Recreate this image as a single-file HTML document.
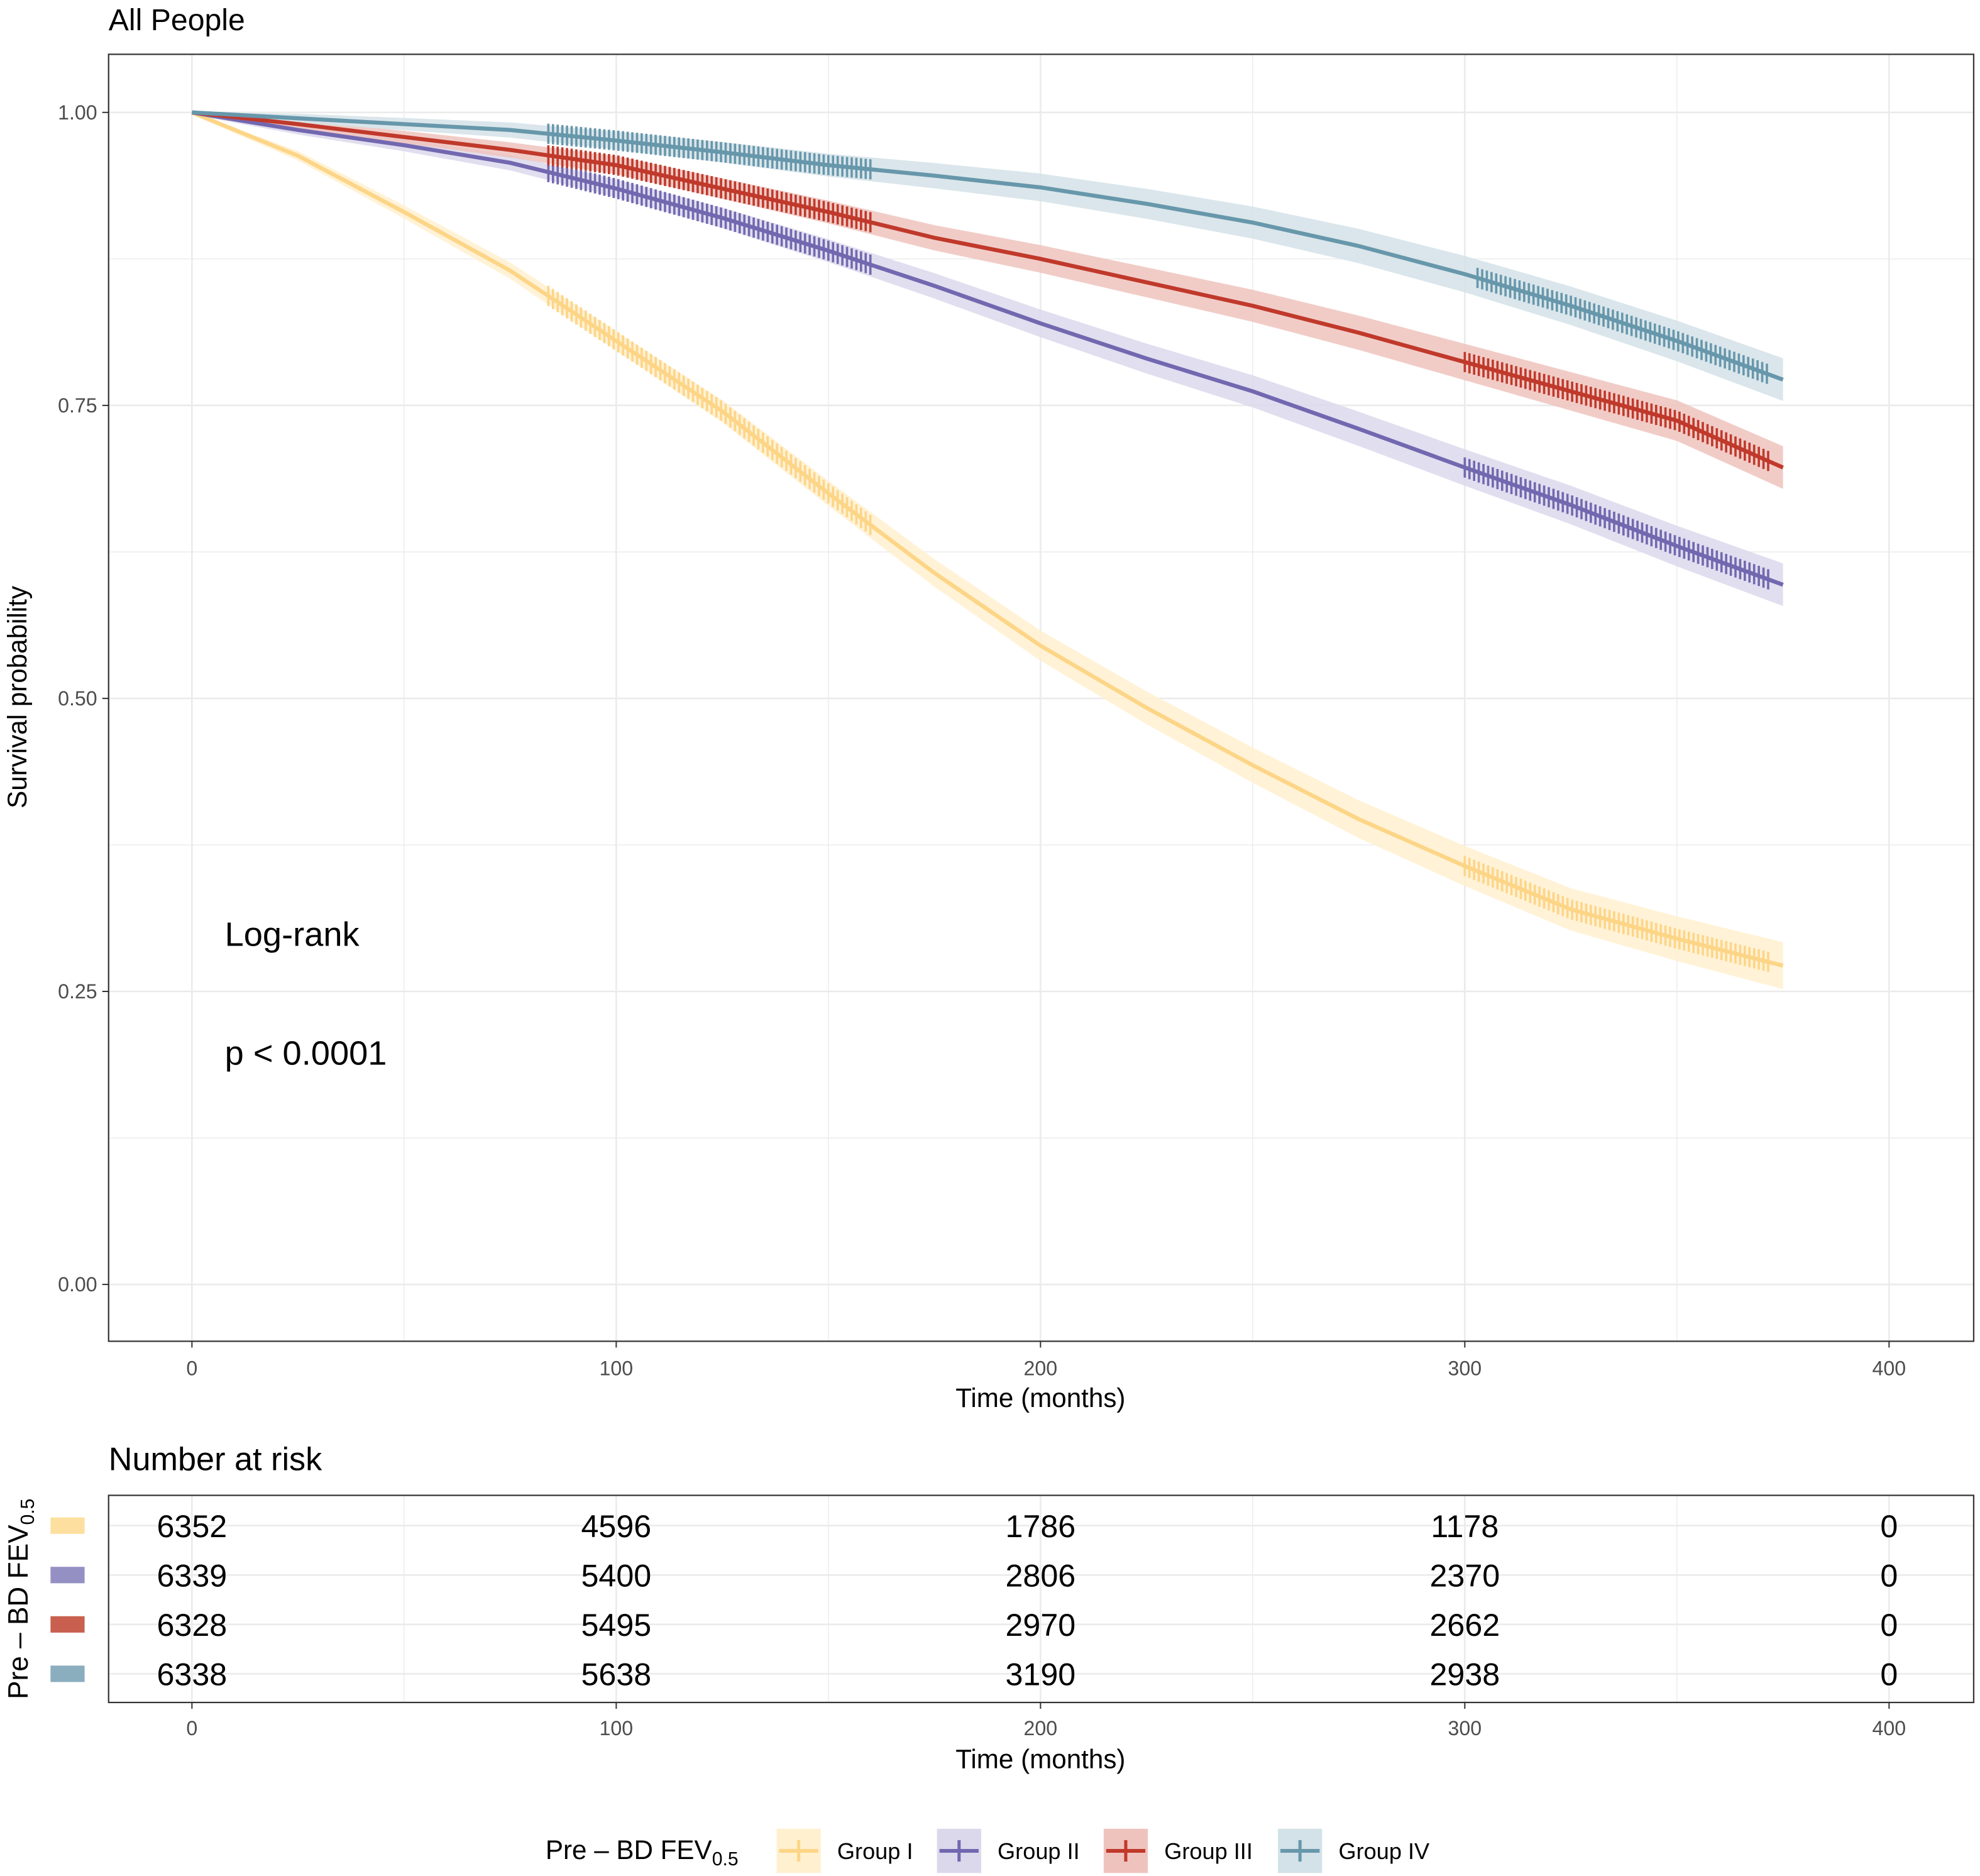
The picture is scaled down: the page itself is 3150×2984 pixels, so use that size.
<!DOCTYPE html>
<html><head><meta charset="utf-8"><style>html,body{margin:0;padding:0;background:#fff}svg{display:block}text{font-family:"Liberation Sans",Arial,sans-serif}</style></head>
<body>
<svg id="chart" width="3150" height="2984" viewBox="0 0 1568 1485.4" preserveAspectRatio="none" xmlns="http://www.w3.org/2000/svg">
<rect width="1568" height="1485.4" fill="#fff"/>
<g id="grid"></g>
<g id="bands"></g>
<g id="lines"></g>
<g id="censors"></g>
<rect x="86" y="43" width="1477" height="1019" fill="none" stroke="#333" stroke-width="1.1"/>
<text x="86" y="24" font-size="24">All People</text>
<text transform="translate(21,552) rotate(-90)" text-anchor="middle" font-size="21">Survival probability</text>
<text x="824" y="1114" text-anchor="middle" font-size="21">Time (months)</text>
<text x="178" y="749" font-size="27">Log-rank</text>
<text x="178" y="843" font-size="27">p &lt; 0.0001</text>
<g id="ticks"></g>
<text x="86" y="1164" font-size="26">Number at risk</text>
<g id="riskgrid"></g>
<rect x="86" y="1184" width="1477" height="164" fill="none" stroke="#333" stroke-width="1.1"/>
<g id="risk"></g>
<text x="824" y="1400" text-anchor="middle" font-size="21">Time (months)</text>
<text transform="translate(22,1266) rotate(-90)" text-anchor="middle" font-size="22">Pre – BD FEV<tspan font-size="15" dy="5">0.5</tspan></text>
<text x="432" y="1472" font-size="21">Pre – BD FEV<tspan font-size="15" dy="5">0.5</tspan></text>
<g id="legend"></g>
</svg>
<script>
const times=[0,25,50,75,100,125,150,175,200,225,250,275,300,325,350,375];
const groupNames=["Group I","Group II","Group III","Group IV"];
const survI  =[1,0.963,0.915,0.865,0.805,0.745,0.675,0.607,0.545,0.492,0.443,0.397,0.357,0.32,0.295,0.272];
const survII =[1,0.985,0.972,0.957,0.935,0.91,0.882,0.852,0.82,0.79,0.762,0.73,0.697,0.665,0.63,0.597];
const survIII=[1,0.99,0.979,0.968,0.955,0.935,0.915,0.893,0.875,0.855,0.835,0.812,0.787,0.762,0.737,0.697];
const survIV =[1,0.995,0.99,0.985,0.976,0.966,0.955,0.946,0.936,0.922,0.906,0.886,0.862,0.835,0.805,0.772];
const series=[survI,survII,survIII,survIV];
const censorStart=[84,84,84,84];
const censorEnd=[160,160,160,160];
const censorLateStart=[300,300,300,303];
const censorLateEnd=[372,372,372,372];
const riskTimes=[0,100,200,300,400];
const riskI=[6352,4596,1786,1178,0];
const riskII=[6339,5400,2806,2370,0];
const riskIII=[6328,5495,2970,2662,0];
const riskIV=[6338,5638,3190,2938,0];
const riskRows=[riskI,riskII,riskIII,riskIV];
const xTicks=[0,100,200,300,400];
const yTicks=[0,0.25,0.5,0.75,1];
const lineCols=["#fdd587","#7268b0","#c0392b","#6797ab"];
const bandCols=["#fff0cf","#dcd8ec","#efc3bd","#d3e2e8"];
const keyCols=["#fde09f","#9590c4","#c9604f","#8aaebd"];
const NS="http://www.w3.org/2000/svg";
const X=t=>152+t*3.36, Y=s=>1017-s*928;
function mk(tag,attrs,parent){const e=document.createElementNS(NS,tag);for(const k in attrs)e.setAttribute(k,attrs[k]);parent.appendChild(e);return e;}
const grid=document.getElementById('grid');
for(let t=-50;t<=450;t+=50){const x=X(t);if(x<86||x>1563)continue;
 const l=mk('line',{x1:x,x2:x,y1:43,y2:1062,stroke:'#ebebeb','stroke-width':t%100===0?1.3:0.7},grid);
 }
for(let s=0;s<=1.0001;s+=0.125){const y=Y(s);
 const l=mk('line',{x1:86,x2:1563,y1:y,y2:y,stroke:'#ebebeb','stroke-width':Math.abs(s*4-Math.round(s*4))<1e-6?1.3:0.7},grid);
 }
function interp(arr,t){let i=0;while(i<times.length-2&&times[i+1]<t)i++;const f=(t-times[i])/(times[i+1]-times[i]);return arr[i]+(arr[i+1]-arr[i])*f;}
const bands=document.getElementById('bands'),lines=document.getElementById('lines'),cens=document.getElementById('censors');
series.forEach((arr,g)=>{
 let up=[],lo=[];
 times.forEach((t,i)=>{const w=0.002+0.018*Math.pow(t/375,0.8)*(g===0?1:0.9);up.push(X(t)+','+Y(Math.min(1,arr[i]+w)));lo.unshift(X(t)+','+Y(arr[i]-w));});
 const b=mk('polygon',{points:up.concat(lo).join(' '),fill:bandCols[g],opacity:0.85},bands);
 
 const p=mk('polyline',{points:times.map((t,i)=>X(t)+','+Y(arr[i])).join(' '),fill:'none',stroke:lineCols[g],'stroke-width':3.2},lines);
 
 const tk=(t)=>{const x=X(t),y=Y(interp(arr,t));const c=mk('line',{x1:x,x2:x,y1:y-8,y2:y+8,stroke:lineCols[g],'stroke-width':1.8},cens);
  };
 for(let t=censorStart[g];t<=censorEnd[g];t+=1.1)tk(t);
 for(let t=censorLateStart[g];t<=censorLateEnd[g];t+=1.1)tk(t);
});
const ticks=document.getElementById('ticks');
xTicks.forEach(v=>{const x=X(v);
 mk('line',{x1:x,x2:x,y1:1062,y2:1067,stroke:'#333'},ticks);
 const t=mk('text',{x:x,y:1089,'text-anchor':'middle','font-size':16,fill:'#4d4d4d'},ticks);t.textContent=v;
 
 mk('line',{x1:x,x2:x,y1:1348,y2:1353,stroke:'#333'},ticks);
 const t2=mk('text',{x:x,y:1374,'text-anchor':'middle','font-size':16,fill:'#4d4d4d'},ticks);t2.textContent=v;
 });
yTicks.forEach(v=>{const y=Y(v);
 mk('line',{x1:81,x2:86,y1:y,y2:y,stroke:'#333'},ticks);
 const t=mk('text',{x:77,y:y+5.5,'text-anchor':'end','font-size':16,fill:'#4d4d4d'},ticks);t.textContent=v.toFixed(2);
 });
const rg=document.getElementById('riskgrid'),risk=document.getElementById('risk');
for(let t=-50;t<=450;t+=50){const x=X(t);if(x<86||x>1563)continue;mk('line',{x1:x,x2:x,y1:1184,y2:1348,stroke:'#ebebeb','stroke-width':t%100===0?1.3:0.7},rg);}
riskRows.forEach((row,g)=>{const y=1208+g*39.1;
 mk('line',{x1:86,x2:1563,y1:y,y2:y,stroke:'#ebebeb','stroke-width':1.3},rg);
 const k=mk('rect',{x:40,y:y-6.5,width:27,height:13,fill:keyCols[g]},risk);
 
 row.forEach((n,i)=>{const t=mk('text',{x:X(riskTimes[i]),y:y+9,'text-anchor':'middle','font-size':25},risk);t.textContent=n;
  });});
const leg=document.getElementById('legend');
const keyX=[615,742,874,1012];
groupNames.forEach((n,g)=>{const x=keyX[g];
 const gr=mk('g',{},leg);
 mk('rect',{x:x,y:1448,width:35,height:35,fill:bandCols[g]},gr);
 mk('line',{x1:x+2,x2:x+33,y1:1465.5,y2:1465.5,stroke:lineCols[g],'stroke-width':3},gr);
 mk('line',{x1:x+17.5,x2:x+17.5,y1:1457,y2:1474,stroke:lineCols[g],'stroke-width':2.5},gr);
 const t=mk('text',{x:x+48,y:1472,'font-size':18},gr);t.textContent=n;});
</script>
</body></html>
